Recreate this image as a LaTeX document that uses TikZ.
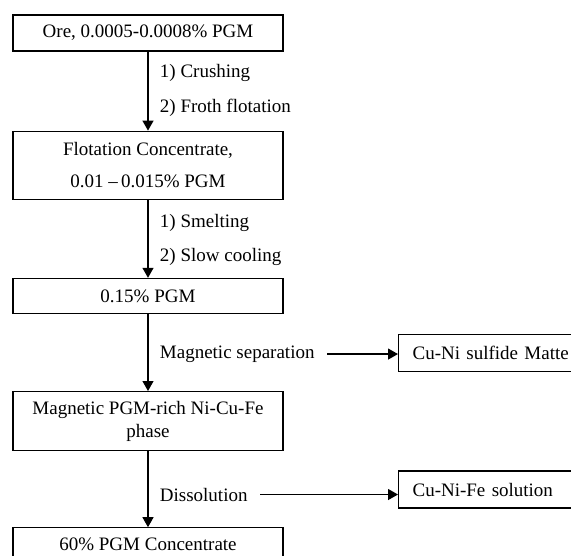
\documentclass[tikz,border=0pt]{standalone}
\usepackage{fontspec}
\setmainfont{Liberation Serif}
\usetikzlibrary{arrows.meta, positioning}
\tikzset{
node distance = 78pt and 78pt,
box/.style={
	draw,
	line width=1.2pt,
	shape=rectangle,
	inner sep=2pt,
	minimum width=270pt,
	minimum height=36pt,
	align=center,
	font=\fontsize{19}{23}\selectfont,
},
sidebox/.style={
	draw,
	line width=1.2pt,
	shape=rectangle,
	inner xsep=14pt,
	inner ysep=2pt,
	minimum height=37pt,
	text width=170pt,
	align=left,
	anchor=west,
	font=\fontsize{19}{23}\selectfont,
},
connection/.style={
	line width=1.2pt,
	-{Triangle[length=10pt,width=11pt]},
},
annot/.style={
	font=\fontsize{19}{23}\selectfont,
	anchor=west,
	xshift=8pt,
}
}

\begin{document}
\begin{tikzpicture}[x=1pt, y=1pt]
		\useasboundingbox (0,0) rectangle (571,-555);
		\clip (0,0) rectangle (571,-555);
		% Main chain
		\node[box] (ore) at (148,-33) {Ore, 0.0005-0.0008\% PGM};
		\node[box, below = 79pt of ore, minimum height=68pt] (flot)
			{Flotation Concentrate,\\[9pt] 0.01 --\,0.015\% PGM};
		\node[box, below = of flot, minimum height=35pt] (matt) {0.15\% PGM};
		\node[box, below = 77pt of matt, minimum height=59pt] (rich)
			{Magnetic PGM-rich Ni-Cu-Fe\\phase};
		\node[box, below = 76pt of rich, minimum height=33pt] (conc) {60\% PGM Concentrate};
		
		% Connections
		
		% ore ->
		\draw[connection] (ore) -- (flot)
			 node[annot, pos = 0.27] {1) Crushing}
			 node[annot, pos = 0.71] {2) Froth flotation};
		
		% flot ->
		\draw[connection] (flot) -- (matt)
			 node[annot, pos = 0.30] {1) Smelting}
			 node[annot, pos = 0.73] {2) Slow cooling};
		
		% matt ->
		\draw[connection] (matt) -- (rich)
			 node[annot, pos = 0.52] (magsep) {Magnetic separation};
		
		% rich ->
		\draw[connection] (rich) -- (conc)
			 node[annot, pos = 0.57] (dissol) {Dissolution};
		
		% Side products
		\node[sidebox] (sulf) at (398,-353) {Cu-Ni sulfide Matte};
		\node[sidebox] (soln) at (398,-489.5) {Cu-Ni-Fe solution};
		
		\draw[connection] ([xshift=9pt]magsep.east) -- (magsep.east -| sulf.west);
		\draw[connection] ([xshift=9pt]dissol.east) -- (dissol.east -| soln.west);
	\end{tikzpicture}
\end{document}
